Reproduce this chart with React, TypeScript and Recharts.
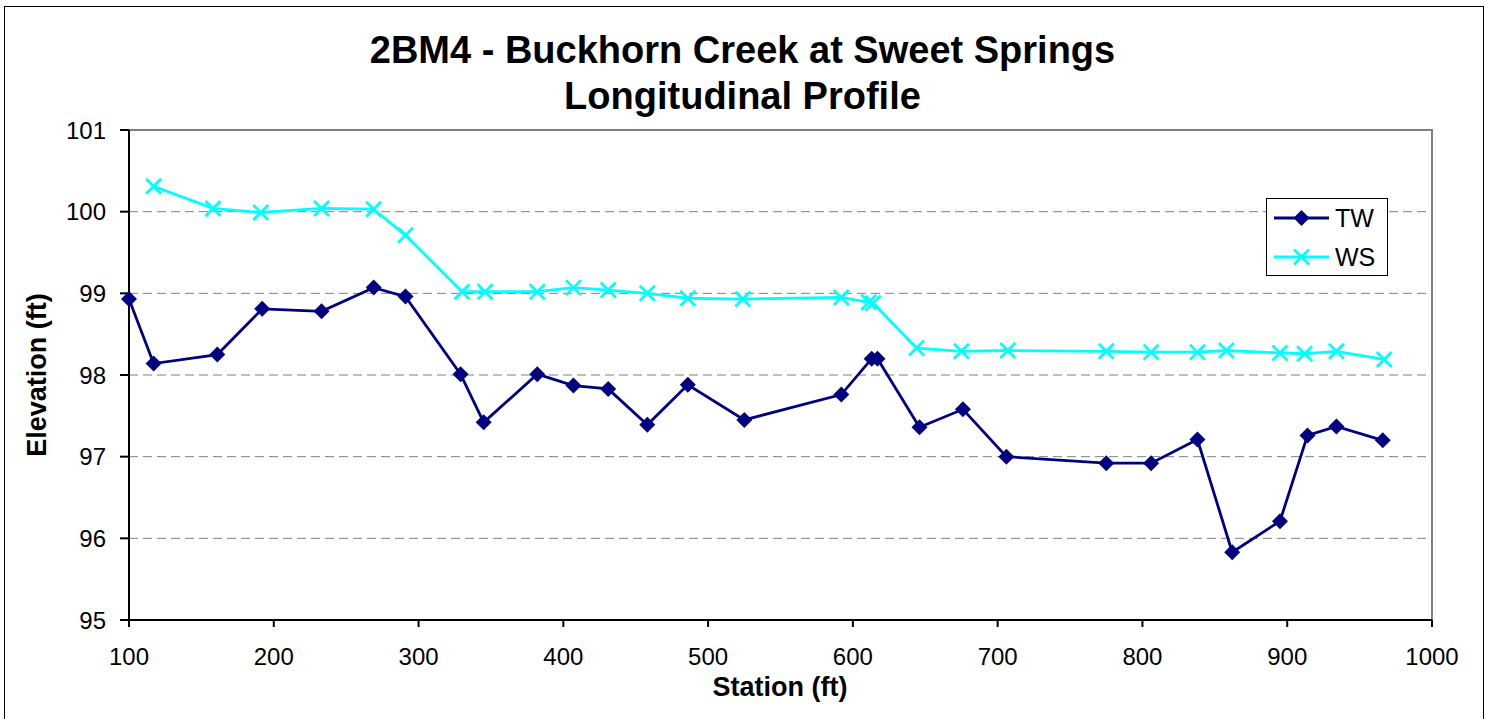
import React from 'react';
import { LineChart, Line, XAxis, YAxis, CartesianGrid, Legend, ReferenceArea } from 'recharts';

// Thalweg (TW) survey points
const twStation = [100, 117, 161, 192, 233, 269, 291, 329, 345, 382, 407, 431, 458, 486, 525, 592, 613, 617, 646, 676, 706, 775, 806, 838, 862, 895, 914, 934, 966];
const twElev = [98.93, 98.14, 98.25, 98.81, 98.78, 99.07, 98.96, 98.01, 97.42, 98.01, 97.87, 97.83, 97.39, 97.88, 97.45, 97.76, 98.2, 98.2, 97.36, 97.58, 97.0, 96.92, 96.92, 97.21, 95.83, 96.21, 97.26, 97.37, 97.2];

// Water surface (WS) survey points
const wsStation = [117, 158, 191, 233, 269, 291, 330, 346, 382, 407, 431, 458, 486, 524, 592, 611, 614, 644, 675, 707, 775, 806, 838, 858, 895, 912, 934, 967];
const wsElev = [100.31, 100.04, 99.99, 100.04, 100.03, 99.71, 99.02, 99.02, 99.02, 99.07, 99.04, 99.0, 98.94, 98.93, 98.95, 98.89, 98.88, 98.33, 98.29, 98.3, 98.29, 98.28, 98.28, 98.3, 98.27, 98.26, 98.29, 98.19];

const xTicks = [100, 200, 300, 400, 500, 600, 700, 800, 900, 1000];
const yTicks = [95, 96, 97, 98, 99, 100, 101];

const TW_COLOR = '#000080';
const WS_COLOR = '#00FFFF';
const FONT = '"Liberation Sans", Arial, sans-serif';

const twData = twStation.map((x, i) => ({ x, y: twElev[i] }));
const wsData = wsStation.map((x, i) => ({ x, y: wsElev[i] }));

const diamondPath = (cx: number, cy: number, r = 8) =>
    `M${cx},${cy - r}L${cx + r},${cy}L${cx},${cy + r}L${cx - r},${cy}Z`;

const crossPath = (cx: number, cy: number, r = 7.5) =>
    `M${cx - r},${cy - r}L${cx + r},${cy + r}M${cx - r},${cy + r}L${cx + r},${cy - r}`;

const DiamondDot = (props: any) => {
    const { cx, cy, index } = props;
    if (cx == null || cy == null) return <g key={index} />;
    return <path key={index} d={diamondPath(cx, cy)} fill={TW_COLOR} />;
};

const CrossDot = (props: any) => {
    const { cx, cy, index } = props;
    if (cx == null || cy == null) return <g key={index} />;
    return <path key={index} d={crossPath(cx, cy)} stroke={WS_COLOR} strokeWidth={2.8} fill="none" />;
};

const renderLegend = () => (
    <svg width={120} height={76} style={{ display: 'block' }}>
        <line x1={7} y1={19} x2={62} y2={19} stroke={TW_COLOR} strokeWidth={2.8} />
        <path d={diamondPath(34.5, 19)} fill={TW_COLOR} />
        <text x={68} y={28} fontSize={25} fontFamily={FONT} fill="#000">TW</text>
        <line x1={7} y1={58} x2={62} y2={58} stroke={WS_COLOR} strokeWidth={2.8} />
        <path d={crossPath(34.5, 58)} stroke={WS_COLOR} strokeWidth={2.8} fill="none" />
        <text x={68} y={67} fontSize={25} fontFamily={FONT} fill="#000">WS</text>
    </svg>
);

export default function App() {
    return (
        <div style={{ position: 'absolute', left: 0, top: 0, width: 1485, height: 719, background: '#fff', overflow: 'hidden', fontFamily: FONT }}>
            {/* outer chart border */}
            <div style={{ position: 'absolute', left: 4, top: 6, width: 1478, height: 760, border: '1px solid #000' }} />

            <div style={{ position: 'absolute', left: 0, top: 26.8, width: 1485, textAlign: 'center', fontSize: 38, fontWeight: 'bold', lineHeight: '46px' }}>
                <div>2BM4 - Buckhorn Creek at Sweet Springs</div>
                <div>Longitudinal Profile</div>
            </div>

            <div style={{ position: 'absolute', left: 630, top: 674, width: 300, textAlign: 'center', fontSize: 27, fontWeight: 'bold', lineHeight: '27px' }}>
                Station (ft)
            </div>
            <div style={{ position: 'absolute', left: -113, top: 360, width: 300, height: 30, textAlign: 'center', fontSize: 27, fontWeight: 'bold', lineHeight: '30px', transform: 'rotate(-90deg)' }}>
                Elevation (ft)
            </div>

            <div style={{ position: 'absolute', left: 0, top: 0 }}>
                <LineChart width={1485} height={719} margin={{ top: 130, right: 53, bottom: 39, left: 69 }}>
                    <CartesianGrid vertical={false} stroke="#808080" strokeDasharray="9 5" />
                    <ReferenceArea x1={100} x2={1000} y1={95} y2={101} fill="none" stroke="#808080" strokeWidth={2} ifOverflow="visible" />
                    <XAxis
                        type="number"
                        dataKey="x"
                        domain={[100, 1000]}
                        ticks={xTicks}
                        allowDuplicatedCategory={false}
                        height={60}
                        tickSize={7}
                        tickMargin={21}
                        stroke="#000"
                        strokeWidth={2}
                        tick={{ fontSize: 24, fill: '#000', fontFamily: FONT }}
                    />
                    <YAxis
                        type="number"
                        domain={[95, 101]}
                        ticks={yTicks}
                        width={60}
                        tickSize={9}
                        tickMargin={14}
                        stroke="#000"
                        strokeWidth={2}
                        tick={{ fontSize: 24, fill: '#000', fontFamily: FONT }}
                    />
                    <Legend
                        layout="horizontal"
                        verticalAlign="middle"
                        align="center"
                        content={renderLegend}
                        wrapperStyle={{ left: 1266, top: 198, width: 122, height: 78, border: '1px solid #000', boxSizing: 'border-box', background: '#fff' }}
                    />
                    <Line
                        name="TW"
                        data={twData}
                        dataKey="y"
                        stroke={TW_COLOR}
                        strokeWidth={2.8}
                        dot={DiamondDot}
                        activeDot={false}
                        isAnimationActive={false}
                    />
                    <Line
                        name="WS"
                        data={wsData}
                        dataKey="y"
                        stroke={WS_COLOR}
                        strokeWidth={2.8}
                        dot={CrossDot}
                        activeDot={false}
                        isAnimationActive={false}
                    />
                </LineChart>
            </div>
        </div>
    );
}
